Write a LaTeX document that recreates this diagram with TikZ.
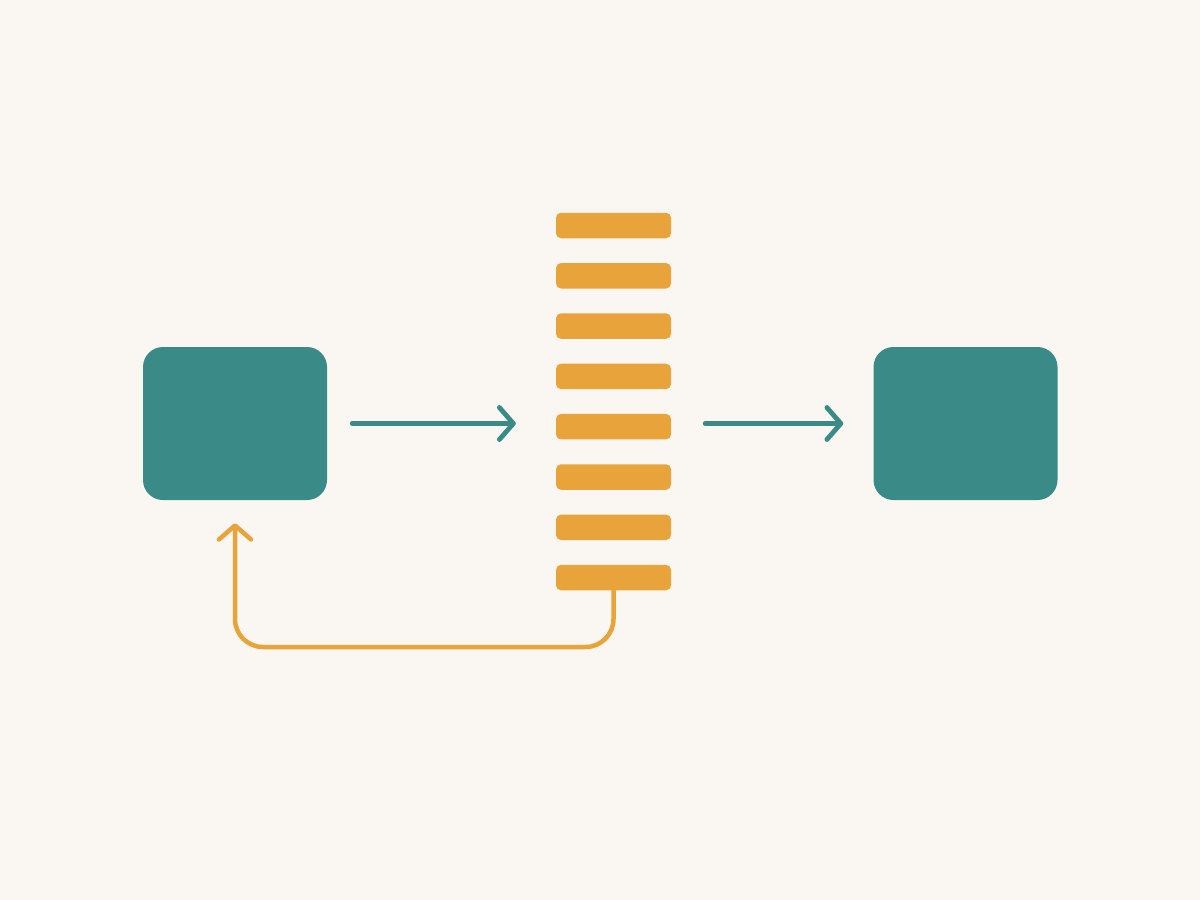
\documentclass[tikz,border=0pt]{standalone}
\usetikzlibrary{arrows.meta,calc}
\definecolor{bgc}{HTML}{FAF7F2}
\definecolor{tealc}{HTML}{3A8A87}
\definecolor{orangec}{HTML}{E8A33A}
\begin{document}
\begin{tikzpicture}[x=1pt,y=-1pt,
  blockbox/.style={draw=none,fill=tealc,rounded corners=20pt,minimum width=184pt,minimum height=153pt,inner sep=0pt},
  barbox/.style={draw=none,fill=orangec,rounded corners=5pt,minimum width=115pt,minimum height=25.5pt,inner sep=0pt},
  tealarrow/.style={draw=tealc,line width=4.8pt,line cap=round,-{Straight Barb[length=14pt,width=32pt,line cap=round,line join=round]}},
  feedarrow/.style={draw=orangec,line width=4.5pt,line cap=round,rounded corners=28pt,-{Straight Barb[length=14pt,width=32pt,line cap=round,line join=round]}}
]
\fill[bgc] (0,0) rectangle (1200,900);
\useasboundingbox (0,0) rectangle (1200,900);
\node[blockbox] (L) at (235,423.5) {};
\node[blockbox] (R) at (965.5,423.5) {};
\foreach \i in {1,...,8}{
  \node[barbox] (b\i) at (613.5,{225.5+50.3*(\i-1)}) {};
}
\coordinate (c) at (235,647);
\draw[tealarrow,shorten <=25pt,shorten >=40pt] (L.east) -- (b5.west |- L.east);
\draw[tealarrow,shorten <=34pt,shorten >=30pt] (b5.east |- R.west) -- (R.west);
\draw[feedarrow,shorten >=23pt] (b8.south) -- (b8.south |- c) -- (c) -- (L.south);
\end{tikzpicture}
\end{document}
